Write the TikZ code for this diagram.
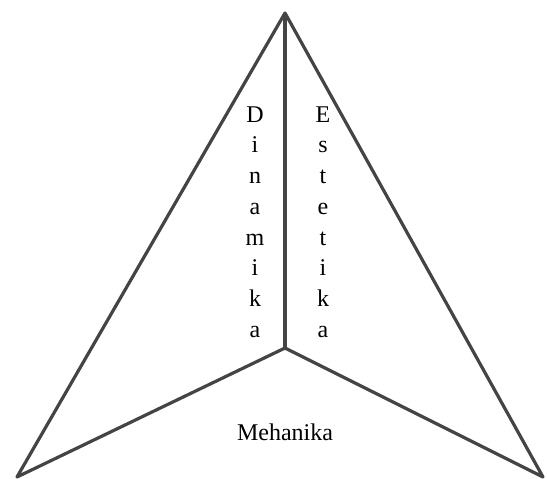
\documentclass[tikz,border=0pt]{standalone}
\usepackage{fontspec}
\setmainfont{Liberation Serif}
\usetikzlibrary{positioning}

\begin{document}
\begin{tikzpicture}[
    x={(1pt,0pt)}, y={(0pt,-1pt)},
    every node/.style={font=\fontsize{24}{30.7}\selectfont, inner sep=0pt},
    edge/.style={draw=dartgray, line width=3.2pt, line join=round},
    column/.style={align=center},
  ]
    \definecolor{dartgray}{HTML}{444444}
    \useasboundingbox (0,0) rectangle (547,479);

    % ---- corners of the dart ----
    \coordinate (apex) at (285,13);
    \coordinate (hub) at (285,348);
    \coordinate (left) at (17,477);
    \coordinate (right) at (543,477);

    % ---- outline ----
    \draw[edge] (hub) -- (left) -- (apex) -- (right) -- cycle;
    \draw[edge] (apex) -- (hub);

    % ---- labels ----
    \node[column] (dinamika) at (255,222) {D\\i\\n\\a\\m\\i\\k\\a};
    \node[column] (estetika) at (323,222) {E\\s\\t\\e\\t\\i\\k\\a};
    \node[anchor=base] (mehanika) at (285,440) {Mehanika};
  \end{tikzpicture}
\end{document}
